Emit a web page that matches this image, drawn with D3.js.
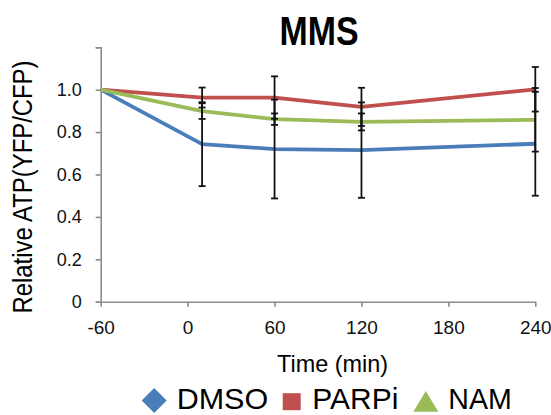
<!DOCTYPE html>
<html>
<head>
<meta charset="utf-8">
<script src="https://cdn.jsdelivr.net/npm/d3@7.9.0/dist/d3.min.js"></script>
<style>
  body { margin: 0; background: #fff; }
  svg { display: block; font-family: "Liberation Sans", Arial, sans-serif; }
</style>
</head>
<body>
<svg id="chart" width="551" height="415"></svg>
<script>
// time points (min) and series values
const times = [-60, 10, 60, 120, 240];
const dmso = [1.0, 0.743, 0.72, 0.715, 0.745];
const dmsoErr = [0, 0.198, 0.233, 0.225, 0.245];
const parpi = [1.0, 0.963, 0.963, 0.919, 1.002];
const parpiErr = [0, 0.047, 0.10, 0.09, 0.105];
const nam = [1.0, 0.899, 0.861, 0.848, 0.858];
const namErr = [0, 0.037, 0.027, 0.04, 0.15];
const xTicks = [-60, 0, 60, 120, 180, 240];
const yTicks = [0, 0.2, 0.4, 0.6, 0.8, 1.0, 1.2];

const series = [
  { name: 'DMSO', values: dmso, err: dmsoErr, color: '#4a7ebb' },
  { name: 'PARPi', values: parpi, err: parpiErr, color: '#c0504d' },
  { name: 'NAM', values: nam, err: namErr, color: '#9bbb59' },
];

const svg = d3.select('#chart');
const x = d3.scaleLinear().domain([-60, 240]).range([100.7, 535.3]);
const y = d3.scaleLinear().domain([0, 1.2]).range([301.7, 47.3]);
const axisColor = '#8c8c8c';
const font = '"Liberation Sans", Arial, sans-serif';

// y axis
const yAxis = svg.append('g')
  .attr('transform', `translate(${x(-60)},0)`)
  .call(d3.axisLeft(y).tickValues(yTicks).tickSize(5)
    .tickFormat(d => d === 1.2 ? '' : (d === 0 ? '0' : d.toFixed(1))));
yAxis.select('.domain').attr('stroke', axisColor).attr('stroke-width', 1.6);
yAxis.selectAll('.tick line').attr('stroke', axisColor).attr('stroke-width', 1.6);
yAxis.selectAll('.tick text').attr('font-size', 18).attr('fill', '#111')
  .attr('x', -19).attr('font-family', font);

// x axis (plain hyphen for the minus sign, like the original)
const xAxis = svg.append('g')
  .attr('transform', `translate(0,${y(0)})`)
  .call(d3.axisBottom(x).tickValues(xTicks).tickSize(5).tickSizeOuter(0)
    .tickFormat(d => String(d)));
xAxis.select('.domain').attr('stroke', axisColor).attr('stroke-width', 1.6);
xAxis.selectAll('.tick text').attr('font-size', 19).attr('fill', '#111')
  .attr('y', 19).attr('font-family', font);
xAxis.selectAll('.tick line').attr('stroke', axisColor).attr('stroke-width', 1.6);

// lines
const line = d3.line().x((d, i) => x(times[i])).y(d => y(d));
series.forEach(s => {
  svg.append('path')
    .attr('d', line(s.values))
    .attr('fill', 'none')
    .attr('stroke', s.color)
    .attr('stroke-width', 3.8)
    .attr('stroke-linejoin', 'round');
});

// error bars on top
series.forEach(s => {
  s.values.forEach((v, i) => {
    const e = s.err[i];
    if (!e) return;
    const cx = x(times[i]);
    const g = svg.append('g').attr('stroke', '#111').attr('stroke-width', 1.8);
    g.append('line').attr('x1', cx).attr('x2', cx).attr('y1', y(v + e)).attr('y2', y(v - e));
    [v + e, v - e].forEach(c => {
      g.append('line').attr('x1', cx - 3.5).attr('x2', cx + 3.5).attr('y1', y(c)).attr('y2', y(c));
    });
  });
});

// title
svg.append('text')
  .attr('x', 319).attr('y', 45)
  .attr('text-anchor', 'middle')
  .attr('font-size', 40).attr('font-weight', 'bold')
  .attr('textLength', 79).attr('lengthAdjust', 'spacingAndGlyphs')
  .text('MMS');

// y axis title
svg.append('text')
  .attr('transform', 'translate(32,187) rotate(-90)')
  .attr('text-anchor', 'middle')
  .attr('font-size', 27)
  .attr('textLength', 253).attr('lengthAdjust', 'spacingAndGlyphs')
  .text('Relative ATP(YFP/CFP)');

// x axis title
svg.append('text')
  .attr('x', 332.5).attr('y', 372)
  .attr('text-anchor', 'middle')
  .attr('font-size', 24)
  .attr('textLength', 111).attr('lengthAdjust', 'spacingAndGlyphs')
  .text('Time (min)');

// legend
const legendY = 409.3;
const legendItems = [
  { name: 'DMSO', color: series[0].color, tx: 176.7, tw: 91.5 },
  { name: 'PARPi', color: series[1].color, tx: 312.3, tw: 86 },
  { name: 'NAM', color: series[2].color, tx: 448.3, tw: 63.5 },
];
// marker shapes: diamond, square, triangle
const markers = [
  { cx: 154.2, cy: 400.5, path: 'M0,-12.5L12.5,0L0,12.5L-12.5,0Z' },
  { cx: 291.7, cy: 401.7, path: 'M-9,-8.5H9V8.5H-9Z' },
  { cx: 425.8, cy: 401.3, path: 'M0,-10.3L12.5,10.4H-12.5Z' },
];
legendItems.forEach((d, i) => {
  svg.append('path')
    .attr('d', markers[i].path)
    .attr('transform', `translate(${markers[i].cx},${markers[i].cy})`)
    .attr('fill', d.color);
  svg.append('text')
    .attr('x', d.tx).attr('y', legendY)
    .attr('font-size', 30)
    .attr('textLength', d.tw).attr('lengthAdjust', 'spacingAndGlyphs')
    .text(d.name);
});
</script>
</body>
</html>
